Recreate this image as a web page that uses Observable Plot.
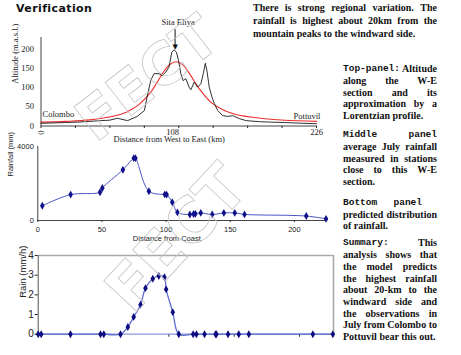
<!DOCTYPE html>
<html><head><meta charset="utf-8">
<script src="https://cdn.jsdelivr.net/npm/d3@7"></script>
<script src="https://cdn.jsdelivr.net/npm/@observablehq/plot@0.6"></script>
<style>
body{margin:0;background:#fff;}
#page{position:relative;width:461px;height:355px;overflow:hidden;background:#fff;}
.title{position:absolute;left:16px;top:2px;font:bold 11px "DejaVu Sans";letter-spacing:0.4px;color:#111;}
.ln{position:absolute;font:bold 10px "Liberation Serif";color:#111;white-space:nowrap;}
.ln.j{display:flex;justify-content:space-between;}
.mono{font-family:"Liberation Mono";font-size:9.5px;font-weight:bold;}
#wm{position:absolute;left:0;top:0;pointer-events:none;}
</style></head>
<body><div id="page"><div class="title">Verification</div></div>
<script>
// ---- Top panel: altitude along W-E section (km, altitude) ----
const profileKm  = [0, 10, 20, 30, 40, 49, 56, 62.8, 71, 79, 84.8, 87.6, 90, 92.7, 96.8, 99.6, 102.3, 105, 107.3, 109.2, 111.1, 112.8, 114.7, 116.6, 118.8, 121.5, 122.9, 125.7, 128.5, 131.2, 133.1, 134.8, 136.1, 138, 140.3, 142.2, 145, 149, 153.2, 157.3, 162.8, 168.3, 180, 200, 215, 226];
const profileAlt = [7, 8, 9, 10, 12, 14, 15, 20, 14, 25, 40, 84, 118, 136, 136, 131, 140, 153, 192, 198, 192, 170, 136, 118, 123, 101, 94, 114, 101, 110, 136, 163, 144, 101, 75, 58, 40, 27, 25, 27, 19, 14, 11, 9, 7, 6];
const lorentzKm  = [0, 20, 40, 60, 70, 80, 90, 95, 100, 105, 111, 116, 121, 126, 131, 140, 150, 160, 180, 200, 226];
const lorentzAlt = [10, 12, 16, 26, 36, 55, 88, 112, 138, 158, 167, 160, 140, 115, 92, 60, 41, 30, 20, 15, 12];
const topYTicks = [0, 50, 100, 150, 200];
const topXLabels = [0, 108, 226];
const topXMinor = [0, 28.25, 56.5, 84.75, 113, 141.25, 169.5, 197.75, 226];
const placeNames = ["Colombo", "Pottuvil"];
const placeKm = [0, 226];
const placeAlt = [30, 25];
const peakName = "Sita Eliya";
const peakKm = 110;
const peakAlt = 198;
const peakArrowTop = 240;

// ---- Middle panel: average July rainfall (distance from coast km, mm) ----
const rainKm = [3.5, 25.6, 48.5, 50.3, 66.3, 74.8, 76.1, 86.6, 99.0, 100.4, 104.8, 108.8, 118.5, 121.4, 122.8, 127.0, 135.9, 145.0, 153.5, 161.1, 209.2, 224.6];
const rainMm = [800, 1400, 1530, 1760, 2740, 3370, 3370, 1580, 1410, 1400, 990, 440, 320, 350, 360, 410, 320, 410, 410, 330, 240, 90];
const midXTicks = [0, 50, 100, 150, 200];
const midYTicks = [0, 4000];

// ---- Bottom panel: predicted rain (km, mm/h) ----
const predKm = [0, 2.3, 24.7, 47.7, 50.2, 63, 68.6, 73.1, 78.3, 82.1, 87.7, 92.3, 96.6, 97.9, 103, 107.6, 118.6, 121.1, 127.3, 135.7, 136.4, 145.3, 153.5, 161.2, 210.2, 225.5];
const predRain = [0, 0, 0, 0, 0, 0, 0.37, 0.88, 1.5, 2.34, 2.82, 2.96, 2.9, 2.28, 1.12, 0, 0, 0, 0, 0, 0, 0, 0, 0, 0, 0];
const botXTicks = [50, 100, 150, 200];
const botYTicks = [0, 1, 2, 3, 4];

// ---- Text ----
const introLines = ["There is strong regional variation. The", "rainfall is highest about 20km from the", "mountain peaks to the windward side."];
const notes = [
  ["{Top-panel:} Altitude", "along the W-E", "section and its", "approximation by a", "Lorentzian profile."],
  ["{Middle} {panel}", "average July rainfall", "measured in stations", "close to this W-E", "section."],
  ["{Bottom} {panel}", "predicted distribution", "of rainfall."],
  ["{Summary:} This", "analysis shows that", "the model predicts", "the highest rainfall", "about 20-km to the", "windward side and", "the observations in", "July from Colombo to", "Pottuvil bear this out."]
];

const page = document.getElementById("page");
const profile = profileKm.map((km, i) => ({km, alt: profileAlt[i]}));
const lorentz = lorentzKm.map((km, i) => ({km, alt: lorentzAlt[i]}));
const places = placeNames.map((name, i) => ({name, km: placeKm[i], alt: placeAlt[i]}));
const rain = rainKm.map((km, i) => ({km, mm: rainMm[i]}));
const pred = predKm.map((km, i) => ({km, r: predRain[i]}));

function place(el, left, top) {
  el.style.position = "absolute"; el.style.left = left + "px"; el.style.top = top + "px";
  page.appendChild(el);
}
const base = {background: "transparent", overflow: "visible", color: "#222"};

const topPlot = Plot.plot({
  width: 330, height: 150,
  marginLeft: 40.5, marginRight: 14, marginTop: 37, marginBottom: 24.5,
  style: {...base, fontFamily: "Liberation Serif", fontSize: "8.5px"},
  x: {domain: [0, 226], ticks: topXMinor, tickFormat: () => "", tickSize: 2.5, label: null},
  y: {domain: [0, 230], ticks: topYTicks, tickSize: 0, tickPadding: 7, label: null},
  marks: [
    Plot.ruleY([0], {stroke: "#444"}),
    Plot.ruleX([0], {stroke: "#444"}),
    Plot.line(lorentz, {x: "km", y: "alt", stroke: "#ee2e2e", strokeWidth: 1.1, curve: "catmull-rom"}),
    Plot.line(profile, {x: "km", y: "alt", stroke: "#1a1a1a", strokeWidth: 0.9}),
    Plot.text(topXLabels, {x: d => d, y: 0, text: d => String(d), rotate: d => d === 0 ? -90 : 0, dy: 6.5}),
    Plot.text(places.filter(d => d.km === 0), {x: "km", y: "alt", text: "name", textAnchor: "start", dx: 1.5}),
    Plot.text(places.filter(d => d.km !== 0), {x: "km", y: "alt", text: "name", textAnchor: "end", dx: 4}),
    Plot.text([peakName], {x: peakKm, y: peakArrowTop, text: d => d, dy: -11, dx: 3}),
    Plot.ruleX([peakKm], {y1: peakAlt, y2: peakArrowTop, stroke: "#111", dy: -4}),
    Plot.text(["▼"], {x: peakKm, y: peakAlt, text: d => d, dy: -3.5, fontSize: 7, fontFamily: "DejaVu Sans", fill: "#111"}),
    Plot.text(["Altitude (m.a.s.l.)"], {frameAnchor: "left", rotate: -90, dx: -25.5, dy: 2}),
    Plot.text(["Distance from West to East (km)"], {frameAnchor: "bottom", dy: 15.5, dx: -9.5})
  ]
});
place(topPlot, 0, 0);

const midPlot = Plot.plot({
  width: 340, height: 120,
  marginLeft: 37.3, marginRight: 12.7, marginTop: 16, marginBottom: 30,
  style: {...base, fontFamily: "Liberation Sans", fontSize: "7.5px"},
  x: {domain: [0, 226], ticks: midXTicks, tickSize: 2, tickPadding: 4, label: null},
  y: {domain: [0, 4000], ticks: midYTicks, tickFormat: d3.format("d"), tickSize: 0, tickPadding: 4, label: null},
  marks: [
    Plot.ruleX([0], {stroke: "#444"}),
    Plot.ruleY([0], {stroke: "#444"}),
    Plot.line(rain, {x: "km", y: "mm", stroke: "#4a56c4", strokeWidth: 1, curve: "catmull-rom"}),
    Plot.dot(rain, {x: "km", y: "mm", symbol: "diamond", r: 2.4, fill: "#10108a"}),
    Plot.text(["Rainfall (mm)"], {frameAnchor: "left", rotate: -90, dx: -27, dy: -7}),
    Plot.text(["Distance from Coast"], {frameAnchor: "bottom", dy: 20.5, dx: -16})
  ]
});
place(midPlot, 0, 130);

const botPlot = Plot.plot({
  width: 340, height: 110,
  marginLeft: 37.7, marginRight: 7, marginTop: 10, marginBottom: 21.3,
  style: {...base, fontFamily: "Liberation Sans", fontSize: "10px"},
  x: {domain: [0, 226], ticks: botXTicks, tickFormat: () => "", tickSize: 3, label: null},
  y: {domain: [0, 4], ticks: botYTicks, tickFormat: d3.format("d"), tickSize: 3, tickPadding: 1.5, label: null},
  marks: [
    Plot.ruleY([4], {stroke: "#a9a9a9", strokeWidth: 1.6}),
    Plot.ruleX([226], {stroke: "#a9a9a9", strokeWidth: 1.6}),
    Plot.ruleX([0], {stroke: "#555"}),
    Plot.ruleY([0], {stroke: "#8c96dc", strokeWidth: 1.2}),
    Plot.line(pred, {x: "km", y: "r", stroke: "#5f6ccf", strokeWidth: 1.3, curve: "catmull-rom"}),
    Plot.dot(pred, {x: "km", y: "r", symbol: "diamond", r: 2.4, fill: "#0c0c80"}),
    Plot.text(["Rain (mm/h)"], {frameAnchor: "left", rotate: -90, dx: -15.7, dy: 3, fontSize: 9.5})
  ]
});
place(botPlot, 0, 245);

// ---- text blocks ----
function makeLine(str, left, center, width, lh, justify) {
  const d = document.createElement("div");
  d.className = "ln" + (justify ? " j" : "");
  d.style.left = left + "px"; d.style.top = (center - lh / 2) + "px";
  d.style.width = width + "px"; d.style.height = lh + "px"; d.style.lineHeight = lh + "px";
  const words = str.split(" ");
  words.forEach((w, i) => {
    const s = document.createElement("span");
    const m = w.match(/^\{(.*)\}$/);
    if (m) { s.className = "mono"; s.textContent = m[1]; } else s.textContent = w;
    d.appendChild(s);
    if (!justify && i < words.length - 1) d.appendChild(document.createTextNode(" "));
  });
  page.appendChild(d);
}
introLines.forEach((t, i) => makeLine(t, 253, 7.3 + i * 13, 184, 13, i < introLines.length - 1));
const paraStart = [69, 135, 202.7, 243.3];
notes.forEach((para, p) => para.forEach((t, i) => {
  const w = t === "{Bottom} {panel}" ? 79 : 94;
  makeLine(t, 343, paraStart[p] + i * 11.7, w, 11.7, i < para.length - 1);
}));

// ---- watermark ----
const ns = "http://www.w3.org/2000/svg";
const wm = document.createElementNS(ns, "svg");
wm.setAttribute("id", "wm"); wm.setAttribute("width", 461); wm.setAttribute("height", 355);
[[147, 78, -38, 58], [176, 238, -47, 62]].forEach(([x, y, a, fs]) => {
  const t = document.createElementNS(ns, "text");
  t.setAttribute("x", x); t.setAttribute("y", y);
  t.setAttribute("transform", `rotate(${a} ${x} ${y})`);
  t.setAttribute("text-anchor", "middle"); t.setAttribute("dominant-baseline", "central");
  t.setAttribute("font-family", "DejaVu Sans"); t.setAttribute("font-weight", "bold");
  t.setAttribute("font-size", fs); t.setAttribute("fill", "none");
  t.setAttribute("stroke", "#c4c4c4"); t.setAttribute("stroke-width", "0.8");
  t.textContent = "FECT";
  wm.appendChild(t);
});
page.appendChild(wm);
</script>
</body></html>
